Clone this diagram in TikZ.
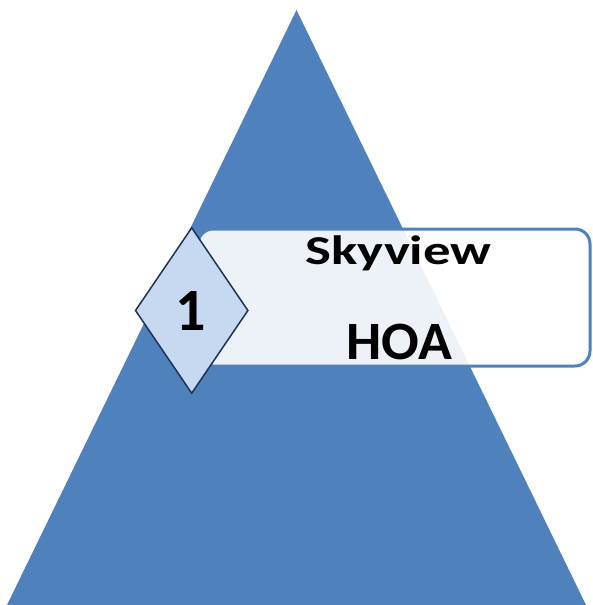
\documentclass[tikz,border=0pt]{standalone}
\usepackage{fontspec}
\setmainfont{Carlito}
\usepackage{graphicx}
\usepackage{tikz}
\usetikzlibrary{positioning}
\usetikzlibrary{shapes.geometric}

\definecolor{pyrblue}{HTML}{4F81BD}
\definecolor{dmdfill}{HTML}{C6D9F1}
\definecolor{dmdline}{HTML}{1C3454}

\begin{document}
\begin{tikzpicture}[x=1pt, y=-1pt,
    level/.style = {draw=pyrblue, line width=3pt, fill=white, fill opacity=0.9, text opacity=1,
                    rounded corners=15pt, minimum width=392pt, minimum height=137pt, inner sep=0pt},
    badge/.style = {draw=dmdline, line width=1.5pt, fill=dmdfill, diamond, inner sep=0pt,
                    minimum width=113pt, minimum height=166pt},
    label/.style = {anchor=base, inner sep=0pt}]
    \useasboundingbox (0,0) rectangle (592,605);
    % pyramid
    \coordinate (top) at (296.5,10);
    \coordinate (bl) at (7,605);
    \coordinate (br) at (586,605);
    \fill[pyrblue] (top) -- (br) -- (bl) -- cycle;
    % level box and number
    \node[level](box) at (394,297.5){};
    \node[badge](num) at (191.7,310.5){};
    \node[label, font=\fontsize{60}{60}\selectfont\bfseries](one) at (191,330){1};
    \node[label, font=\fontsize{41}{41}\selectfont\bfseries](sky) at (398.5,264.5){\resizebox{186pt}{\height}{Skyview}};
    \node[label, font=\fontsize{54}{54}\selectfont\bfseries](hoa) at (399,359.5){\resizebox{106pt}{\height}{HOA}};
\end{tikzpicture}
\end{document}
